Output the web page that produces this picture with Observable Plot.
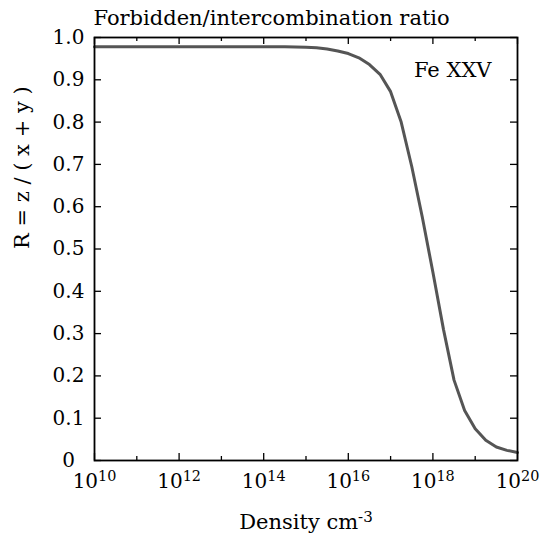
<!DOCTYPE html>
<html>
<head>
<meta charset="utf-8">
<script src="https://cdn.jsdelivr.net/npm/d3@7"></script>
<script src="https://cdn.jsdelivr.net/npm/@observablehq/plot@0.6"></script>
<style>
  html, body { margin: 0; padding: 0; background: #fff; }
  #chart svg, #chart svg text { font-family: "DejaVu Serif", "Liberation Serif", serif !important; }
</style>
</head>
<body>
<div id="chart"></div>
<script>
const title = "Forbidden/intercombination ratio";
const xLabel = "Density cm";
const xLabelExp = "-3";
const yLabel = "R = z / ( x + y )";
const ionLabel = "Fe XXV";

const logDensity = [10, 10.5, 11, 11.5, 12, 12.5, 13, 13.5, 14, 14.5, 15, 15.25, 15.5, 15.75, 16, 16.25, 16.5, 16.75, 17, 17.25, 17.5, 17.75, 18, 18.25, 18.5, 18.75, 19, 19.25, 19.5, 19.75, 20];
const ratio      = [0.978, 0.978, 0.978, 0.978, 0.978, 0.978, 0.978, 0.978, 0.978, 0.978, 0.977, 0.976, 0.973, 0.968, 0.962, 0.952, 0.936, 0.913, 0.872, 0.800, 0.695, 0.575, 0.445, 0.310, 0.190, 0.118, 0.075, 0.048, 0.032, 0.024, 0.019];

const majorExps = [10, 12, 14, 16, 18, 20];
const minorExps = [11, 13, 15, 17, 19];
const yTicks = [0, 0.1, 0.2, 0.3, 0.4, 0.5, 0.6, 0.7, 0.8, 0.9, 1.0];

const data = logDensity.map((l, i) => ({density: Math.pow(10, l), ratio: ratio[i]}));
const majors = majorExps.map(e => Math.pow(10, e));
const minors = minorExps.map(e => Math.pow(10, e));

const W = 560, H = 537;
const mT = 37, mL = 94, mR = 43, mB = 77;
const ph = H - mT - mB, pw = W - mL - mR;
const fs = 21, tfs = 20;
const ff = "DejaVu Serif";

const plot = Plot.plot({
  width: W, height: H,
  marginTop: mT, marginLeft: mL, marginRight: mR, marginBottom: mB,
  style: `font-family: "${ff}", serif; font-size: ${fs}px; color: #000; background: #fff;`,
  x: {type: "log", domain: [1e10, 1e20]},
  y: {domain: [0, 1]},
  marks: [
    Plot.tickX(majors, {x: d => d, insetTop: ph - 7, stroke: "#000", strokeWidth: 1.3}),
    Plot.tickX(majors, {x: d => d, insetBottom: ph - 7, stroke: "#000", strokeWidth: 1.3}),
    Plot.tickX(minors, {x: d => d, insetTop: ph - 4, stroke: "#000", strokeWidth: 1.3}),
    Plot.tickX(minors, {x: d => d, insetBottom: ph - 4, stroke: "#000", strokeWidth: 1.3}),
    Plot.tickY(yTicks, {y: d => d, insetRight: pw - 7, stroke: "#000", strokeWidth: 1.3}),
    Plot.tickY(yTicks, {y: d => d, insetLeft: pw - 7, stroke: "#000", strokeWidth: 1.3}),
    Plot.axisX({ticks: majors, tickSize: 0, tickPadding: 13, label: null, fontSize: tfs,
      tickFormat: d => "10^" + Math.round(Math.log10(d)), className: "xticks"}),
    Plot.axisY({ticks: yTicks, tickSize: 0, tickPadding: 26, textAnchor: "middle", label: null, fontSize: tfs,
      tickFormat: d => d === 0 ? "0" : d.toFixed(1)}),
    Plot.line(data, {x: "density", y: "ratio", stroke: "#555", strokeWidth: 3}),
    Plot.frame({stroke: "#000", strokeWidth: 1.8}),
    Plot.text([ionLabel], {frameAnchor: "top-right", dx: -26, dy: 25, fontSize: fs, textAnchor: "end", fill: "#000"}),
    Plot.text([title], {frameAnchor: "top-left", dx: -1, dy: -27, fontSize: fs, textAnchor: "start", fill: "#000"}),
    Plot.text([xLabel], {frameAnchor: "bottom", dy: 68, fontSize: fs, fill: "#000", className: "xlabel"}),
    Plot.text([yLabel], {frameAnchor: "left", dx: -72, rotate: -90, fontSize: fs, fill: "#000"})
  ]
});

plot.setAttribute("font-family", ff);
plot.querySelectorAll(".xticks text").forEach(t => {
  const [b, e] = t.textContent.split("^");
  t.textContent = b;
  const ts = document.createElementNS("http://www.w3.org/2000/svg", "tspan");
  ts.setAttribute("dy", "-0.45em");
  ts.setAttribute("font-size", "0.72em");
  ts.textContent = e;
  t.appendChild(ts);
});
plot.querySelectorAll(".xlabel text").forEach(t => {
  const ts = document.createElementNS("http://www.w3.org/2000/svg", "tspan");
  ts.setAttribute("dy", "-0.45em");
  ts.setAttribute("font-size", "0.72em");
  ts.textContent = xLabelExp;
  t.appendChild(ts);
});

document.getElementById("chart").appendChild(plot);
</script>
</body>
</html>
